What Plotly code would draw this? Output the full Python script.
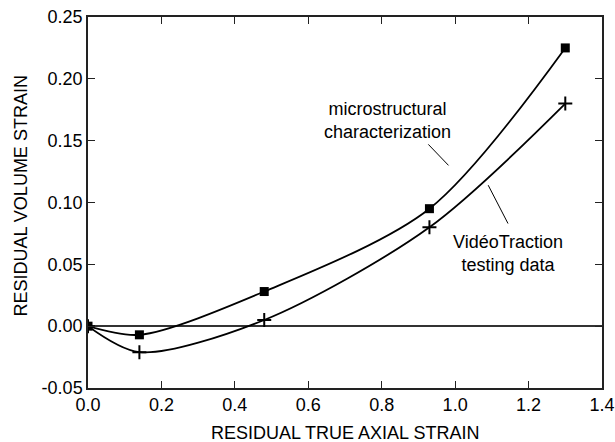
import plotly.graph_objects as go

# Data
strain_x = [0.0, 0.14, 0.48, 0.93, 1.30]
micro_y = [0.0, -0.007, 0.028, 0.095, 0.225]
video_y = [0.0, -0.021, 0.005, 0.080, 0.180]

x_ticks = [0.0, 0.2, 0.4, 0.6, 0.8, 1.0, 1.2, 1.4]
y_ticks = [-0.05, 0.0, 0.05, 0.10, 0.15, 0.20, 0.25]

x_title = "RESIDUAL TRUE AXIAL STRAIN"
y_title = "RESIDUAL VOLUME STRAIN"

FONT = "Liberation Sans, Arial, sans-serif"
FS = 18

fig = go.Figure()
fig.add_trace(go.Scatter(
    x=strain_x, y=micro_y, mode="lines+markers",
    line=dict(color="black", width=1.8, shape="spline", smoothing=0.85),
    marker=dict(symbol="square", size=9, color="black"),
    name="microstructural characterization"))
fig.add_trace(go.Scatter(
    x=strain_x, y=video_y, mode="lines+markers",
    line=dict(color="black", width=1.8, shape="spline", smoothing=0.85),
    marker=dict(symbol="cross-thin", size=10, line=dict(color="black", width=2)),
    name="VidéoTraction testing data"))

# Annotations
fig.add_annotation(x=0.817, y=0.166, text="microstructural<br>characterization",
                   showarrow=False, font=dict(size=FS, family=FONT, color="black"))
fig.add_shape(type="line", x0=0.927, y0=0.147, x1=0.982, y1=0.130,
              line=dict(color="black", width=1))
fig.add_annotation(x=1.145, y=0.059, text="VidéoTraction<br>testing data",
                   showarrow=False, font=dict(size=FS, family=FONT, color="black"))
fig.add_shape(type="line", x0=1.090, y0=0.114, x1=1.144, y1=0.083,
              line=dict(color="black", width=1))

# Axis titles
fig.add_annotation(xref="paper", yref="paper", x=0.5, y=-0.1226, text=x_title,
                   showarrow=False, xanchor="center", yanchor="middle",
                   font=dict(size=FS, family=FONT, color="black"))
fig.add_annotation(xref="paper", yref="paper", x=-0.1294, y=0.5175, text=y_title,
                   showarrow=False, xanchor="center", yanchor="middle", textangle=-90,
                   font=dict(size=FS, family=FONT, color="black"))

axis_common = dict(showline=True, linecolor="#222222", linewidth=1.5, mirror="allticks",
                   ticks="inside", ticklen=7, tickcolor="#222222", tickwidth=1,
                   showgrid=False, automargin=False,
                   tickfont=dict(size=FS, family=FONT, color="black"))

fig.update_xaxes(range=[0, 1.4], tickvals=x_ticks, ticktext=[f"{v:.1f}" for v in x_ticks],
                 zeroline=False, **axis_common)
fig.update_yaxes(range=[-0.05, 0.25], tickvals=y_ticks, ticktext=[f"{v:.2f}" for v in y_ticks],
                 zeroline=True, zerolinecolor="#333333", zerolinewidth=1.5,
                 **axis_common)

fig.update_layout(width=615, height=442, margin=dict(l=88, r=13, t=17, b=54),
                  paper_bgcolor="white", plot_bgcolor="white", showlegend=False,
                  font=dict(family=FONT, color="black"))

fig.write_html("out.html")
